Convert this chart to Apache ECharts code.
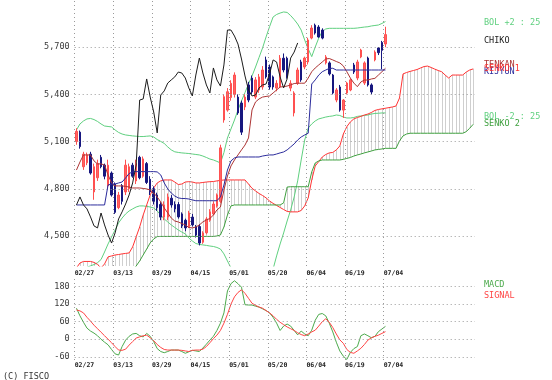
<!DOCTYPE html>
<html><head><meta charset="utf-8">
<script src="https://cdn.jsdelivr.net/npm/echarts@6/dist/echarts.min.js"></script>
<style>html,body{margin:0;padding:0;background:#fff}#c{width:552px;height:380px}</style>
</head><body><div id="c"></div>
<script>
const tickLabels = ['02/27','03/13','03/29','04/15','05/01','05/20','06/04','06/19','07/04'];
const candleOpen = [5100,5160,4940,4965,5020,4780,4870,5000,4950,4820,4900,4830,4680,4820,4780,4800,4950,4850,5000,4880,4960,4860,4800,4760,4700,4620,4620,4740,4700,4700,4640,4600,4560,4620,4560,4560,4460,4520,4600,4640,4690,4720,5237,5300,5380,5400,5383,5345,5320,5460,5504,5383,5428,5447,5619,5574,5511,5440,5447,5630,5630,5440,5282,5470,5606,5574,5606,5758,5840,5828,5809,5600,5600,5523,5364,5447,5300,5409,5428,5587,5504,5638,5472,5631,5460,5619,5695,5730,5720];
const candleClose = [5165,5068,5020,5015,4900,4940,4960,4940,4880,4950,4760,4650,4760,4720,4950,4940,4880,4960,4870,4990,4840,4780,4720,4680,4620,4697,4748,4697,4672,4621,4564,4551,4646,4570,4506,4455,4519,4608,4653,4703,4761,5060,5385,5417,5470,5523,5282,5160,5383,5364,5415,5492,5511,5555,5511,5447,5447,5470,5630,5555,5510,5470,5409,5555,5492,5631,5746,5822,5790,5765,5758,5638,5530,5409,5428,5300,5364,5472,5492,5542,5606,5682,5600,5460,5415,5669,5665,5680,5780];
const candleLow = [5080,5055,4920,4950,4890,4730,4850,4930,4860,4800,4750,4640,4670,4700,4760,4780,4870,4830,4860,4870,4830,4760,4700,4660,4600,4600,4600,4680,4650,4610,4550,4530,4550,4560,4490,4440,4450,4510,4590,4630,4680,4710,5220,5290,5360,5380,5270,5142,5300,5350,5400,5370,5410,5430,5500,5430,5430,5420,5440,5540,5500,5420,5260,5460,5480,5560,5590,5750,5780,5760,5750,5590,5520,5400,5350,5290,5250,5400,5420,5530,5490,5630,5460,5450,5400,5610,5650,5560,5700];
const candleHigh = [5185,5170,5035,5030,5035,4960,4985,5015,4960,4985,4910,4840,4780,4830,4985,4960,4965,4985,5010,5005,4970,4880,4815,4775,4715,4720,4770,4760,4720,4715,4650,4610,4660,4640,4570,4575,4530,4620,4670,4720,4770,5080,5400,5440,5490,5540,5400,5360,5400,5480,5520,5510,5530,5580,5640,5590,5520,5490,5650,5660,5640,5490,5420,5570,5620,5640,5760,5840,5850,5840,5820,5650,5610,5530,5440,5460,5370,5480,5500,5600,5620,5690,5610,5640,5470,5680,5700,5740,5830];
const tenkan = [4919,4970,5015,5015,5015,4977,4958,4958,4951,4888,4837,4818,4818,4818,4815,4811,4805,4805,4805,4802,4799,4792,4773,4748,4716,4678,4646,4614,4595,4589,4579,4570,4554,4551,4557,4570,4589,4602,4611,4633,4665,4684,4792,4881,4945,4983,5015,5047,5078,5123,5301,5352,5371,5383,5387,5390,5409,5428,5447,5449,5453,5460,5469,5471,5471,5471,5504,5544,5568,5587,5606,5625,5628,5619,5609,5600,5581,5544,5504,5472,5449,5479,5491,5491,5498,5502,5523,5544,5566];
const kijun = [4697,4697,4697,4697,4697,4697,4697,4697,4697,4824,4830,4830,4837,4843,4869,4897,4907,4909,4909,4909,4909,4909,4909,4907,4888,4837,4799,4773,4754,4742,4738,4738,4735,4729,4724,4724,4724,4724,4724,4724,4724,4748,4824,4919,4977,4996,5002,5002,5002,5002,5002,5002,5002,5008,5012,5015,5015,5021,5028,5034,5047,5066,5085,5110,5129,5142,5153,5466,5492,5523,5544,5555,5565,5566,5555,5555,5555,5555,5555,5555,5555,5555,5555,5555,5555,5555,5555,5555,5555];
const senkou1 = [4297,4328,4338,4338,4338,4332,4319,4297,4322,4367,4373,4379,4382,4386,4389,4392,4430,4494,4557,4633,4697,4761,4805,4837,4850,4856,4856,4856,4843,4827,4830,4843,4845,4843,4837,4837,4840,4843,4845,4846,4850,4853,4856,4856,4856,4856,4856,4856,4856,4830,4803,4786,4770,4757,4742,4722,4707,4694,4681,4668,4656,4653,4653,4653,4662,4691,4742,4856,4945,4973,5002,5018,5028,5031,5047,5072,5148,5195,5225,5244,5253,5260,5269,5275,5285,5298,5304,5308,5312,5316,5320,5326,5377,5530,5539,5546,5552,5558,5568,5577,5580,5571,5561,5552,5544,5523,5504,5523,5523,5523,5523,5542,5555,5562];
const senkou2 = [4280,4280,4280,4280,4280,4280,4280,4280,4280,4280,4280,4280,4280,4280,4280,4280,4280,4309,4341,4379,4417,4456,4481,4496,4497,4497,4497,4497,4497,4497,4497,4497,4497,4497,4497,4497,4497,4497,4497,4497,4500,4506,4557,4633,4691,4697,4697,4697,4697,4697,4697,4697,4697,4697,4697,4697,4697,4697,4697,4710,4811,4813,4813,4813,4813,4813,4813,4907,4964,4977,4983,4983,4983,4983,4983,4983,4987,4993,4999,5008,5015,5021,5028,5034,5040,5047,5050,5053,5057,5057,5057,5057,5104,5136,5148,5153,5153,5153,5153,5153,5153,5153,5153,5153,5153,5153,5153,5153,5153,5153,5153,5163,5185,5210];
const chikou = [4697,4748,4697,4672,4621,4564,4551,4646,4570,4506,4455,4519,4608,4653,4703,4761,4837,4951,5364,5371,5498,5383,5288,5155,5396,5422,5472,5492,5511,5542,5536,5504,5441,5390,5523,5631,5536,5460,5409,5568,5492,5453,5587,5809,5809,5771,5720,5625,5517,5428,5390,5396,5441,5460,5466,5530,5619,5606,5511,5441,5498,5631,5669,5727];
const bolUpper = [5174,5212,5231,5244,5247,5240,5228,5212,5199,5196,5193,5174,5158,5148,5142,5139,5136,5134,5132,5132,5134,5136,5129,5113,5101,5088,5066,5047,5035,5031,5028,5026,5024,5021,5018,5015,5008,4999,4989,4983,4974,4964,5030,5123,5180,5237,5301,5358,5412,5466,5517,5574,5635,5695,5765,5831,5892,5908,5917,5924,5921,5901,5876,5847,5809,5746,5689,5640,5701,5758,5800,5816,5820,5820,5820,5820,5820,5820,5820,5820,5822,5825,5828,5830,5835,5838,5841,5851,5863];
const bolLower = [4200,4230,4260,4300,4310,4318,4330,4350,4398,4449,4494,4538,4583,4614,4640,4659,4672,4684,4691,4691,4688,4684,4678,4659,4633,4608,4589,4570,4554,4538,4525,4513,4487,4468,4452,4446,4443,4440,4436,4433,4427,4417,4386,4341,4297,4250,4200,4150,4120,4100,4090,4080,4090,4120,4160,4210,4290,4373,4449,4519,4595,4665,4748,4850,4983,5110,5186,5212,5231,5244,5250,5256,5260,5263,5269,5266,5256,5250,5250,5253,5260,5263,5266,5269,5275,5279,5280,5282,5282];
const macd = [106,80,58,38,28,21,12,0,-10,-19,-35,-50,-54,-25,-3,10,18,20,12,8,20,10,-8,-32,-42,-46,-42,-37,-37,-37,-42,-48,-43,-38,-40,-42,-30,-17,-3,10,30,55,90,165,190,200,190,178,118,117,117,113,110,104,98,90,75,55,30,45,52,45,30,15,28,18,12,31,65,85,88,80,55,25,-10,-40,-58,-69,-45,-32,-25,12,18,12,5,10,26,35,44];
const signal = [100,97,90,75,62,48,36,24,12,0,-12,-25,-37,-38,-34,-20,-8,4,8,12,14,5,-5,-18,-28,-35,-37,-37,-37,-37,-38,-40,-42,-38,-37,-37,-34,-25,-12,2,14,30,55,85,120,145,160,169,157,140,123,116,110,106,98,90,80,68,58,50,42,36,30,22,16,12,18,25,31,45,60,70,58,40,18,-2,-14,-35,-45,-48,-40,-31,-18,-3,5,10,14,20,26];
const mainGridValues = [4500,4800,5100,5400,5700];
const macdGridValues = [-60,0,60,120,180];

const mono = '"DejaVu Sans Mono","Liberation Mono",monospace';
const xy = arr => arr.map((v, i) => [i + 0.5, v]);
const fmtThousands = v => String(v).replace(/\B(?=(\d{3})+(?!\d))/g, ',');
const gridLine = {type: [1, 3], color: '#9a9a9a', width: 1};

function gridSeries(xi, yVals) {
  return {type: 'line', xAxisIndex: xi, yAxisIndex: xi, data: [], silent: true, z: 0,
    markLine: {silent: true, symbol: ['none', 'none'], label: {show: false}, lineStyle: gridLine, animation: false,
      emphasis: {disabled: true},
      data: tickLabels.map((_, k) => ({xAxis: k * 11})).concat(yVals.map(v => ({yAxis: v})))}};
}
function lineSeries(name, arr, color, xi, z) {
  return {name, type: 'line', xAxisIndex: xi || 0, yAxisIndex: xi || 0, data: xy(arr), symbol: 'none',
    lineStyle: {color, width: 1}, itemStyle: {color}, silent: true, z: z || 3, clip: true};
}
function txt(t, x, y, c) {
  return {type: 'text', x, y, silent: true, z: 10,
    style: {text: t, fill: c, font: '8.5px ' + mono, verticalAlign: 'middle'}};
}
const xLabel = (margin) => ({show: true, showMaxLabel: false, showMinLabel: true, align: 'left', margin,
  color: '#222', fontFamily: mono, fontSize: 6.5, fontWeight: 'bold',
  formatter: v => { const k = v / 11; return (Number.isInteger(k) && k < tickLabels.length) ? tickLabels[k] : ''; }});

const chart = echarts.init(document.getElementById('c'), null, {renderer: 'canvas', width: 552, height: 380});
chart.setOption({
  animation: false,
  backgroundColor: '#fff',
  grid: [
    {left: 74.7, top: 0, width: 400.3, height: 266},
    {left: 74.7, top: 279, width: 400.3, height: 81}
  ],
  xAxis: [0, 1].map(g => ({type: 'value', gridIndex: g, min: 0, max: 114, interval: 11,
    axisLine: {show: false}, axisTick: {show: false}, splitLine: {show: false},
    axisLabel: xLabel(g === 0 ? 4 : 1.5)})),
  yAxis: [
    {type: 'value', gridIndex: 0, min: 4309, max: 6000, minInterval: 300, maxInterval: 300,
      axisLine: {show: false}, axisTick: {show: false}, splitLine: {show: false},
      axisLabel: {margin: 5, color: '#3a3a3a', fontFamily: mono, fontSize: 8.5,
        formatter: v => (v % 300 === 0 && v < 6000) ? fmtThousands(v) : ''}},
    {type: 'value', gridIndex: 1, min: -71, max: 206, minInterval: 60, maxInterval: 60,
      axisLine: {show: false}, axisTick: {show: false}, splitLine: {show: false},
      axisLabel: {margin: 5, color: '#3a3a3a', fontFamily: mono, fontSize: 8.5,
        formatter: v => (v % 60 === 0 && v <= 180) ? String(v) : ''}}
  ],
  series: [
    gridSeries(0, mainGridValues),
    gridSeries(1, macdGridValues),
    {type: 'custom', xAxisIndex: 0, yAxisIndex: 0, silent: true, z: 1,
      data: senkou1.map((v, i) => [i + 0.5, v, senkou2[i]]),
      renderItem: (params, api) => {
        const a = api.coord([api.value(0), api.value(1)]);
        const b = api.coord([api.value(0), api.value(2)]);
        const cs = params.coordSys;
        const clamp = y => Math.max(cs.y, Math.min(cs.y + cs.height, y));
        const x = Math.round(a[0]) + 0.5;
        return {type: 'line', shape: {x1: x, y1: clamp(a[1]), x2: x, y2: clamp(b[1])},
          style: {stroke: '#cfcfcf', lineWidth: 1}};
      }},
    lineSeries('BOL +2', bolUpper, '#5fd07f'),
    lineSeries('BOL -2', bolLower, '#5fd07f'),
    lineSeries('SENKO 1', senkou1, '#ff3333'),
    lineSeries('SENKO 2', senkou2, '#3fa03f'),
    {type: 'candlestick', xAxisIndex: 0, yAxisIndex: 0, silent: true, z: 4, barWidth: 2,
      encode: {x: 0, y: [1, 2, 3, 4]},
      data: candleOpen.map((o, i) => [i + 0.5, o, candleClose[i], candleLow[i], candleHigh[i]]),
      itemStyle: {color: '#ff6464', color0: '#17177f', borderColor: '#ff5050', borderColor0: '#17177f', borderWidth: 1}},
    lineSeries('TENKAN', tenkan, '#ad3434', 0, 5),
    lineSeries('KIJYUN', kijun, '#2c2c9c', 0, 5),
    lineSeries('CHIKO', chikou, '#1c1c1c', 0, 5),
    lineSeries('MACD', macd, '#4caa4c', 1),
    lineSeries('SIGNAL', signal, '#ff4444', 1)
  ],
  graphic: [
    txt('BOL +2 : 25', 484, 23, '#5fd07f'),
    txt('CHIKO', 484, 40.3, '#222'),
    txt('TENKAN', 484, 64.7, '#ad3434'),
    txt('KIJYUN', 484, 71.3, '#2c2c9c'),
    txt('SENKO 1', 484, 68.3, '#ff3333'),
    txt('BOL -2 : 25', 484, 116.3, '#5fd07f'),
    txt('SENKO 2', 484, 123.7, '#3fa03f'),
    txt('MACD', 484, 285, '#4caa4c'),
    txt('SIGNAL', 484, 295.3, '#ff4444'),
    txt('(C) FISCO', 3, 376.3, '#333')
  ]
});
</script>
</body></html>
